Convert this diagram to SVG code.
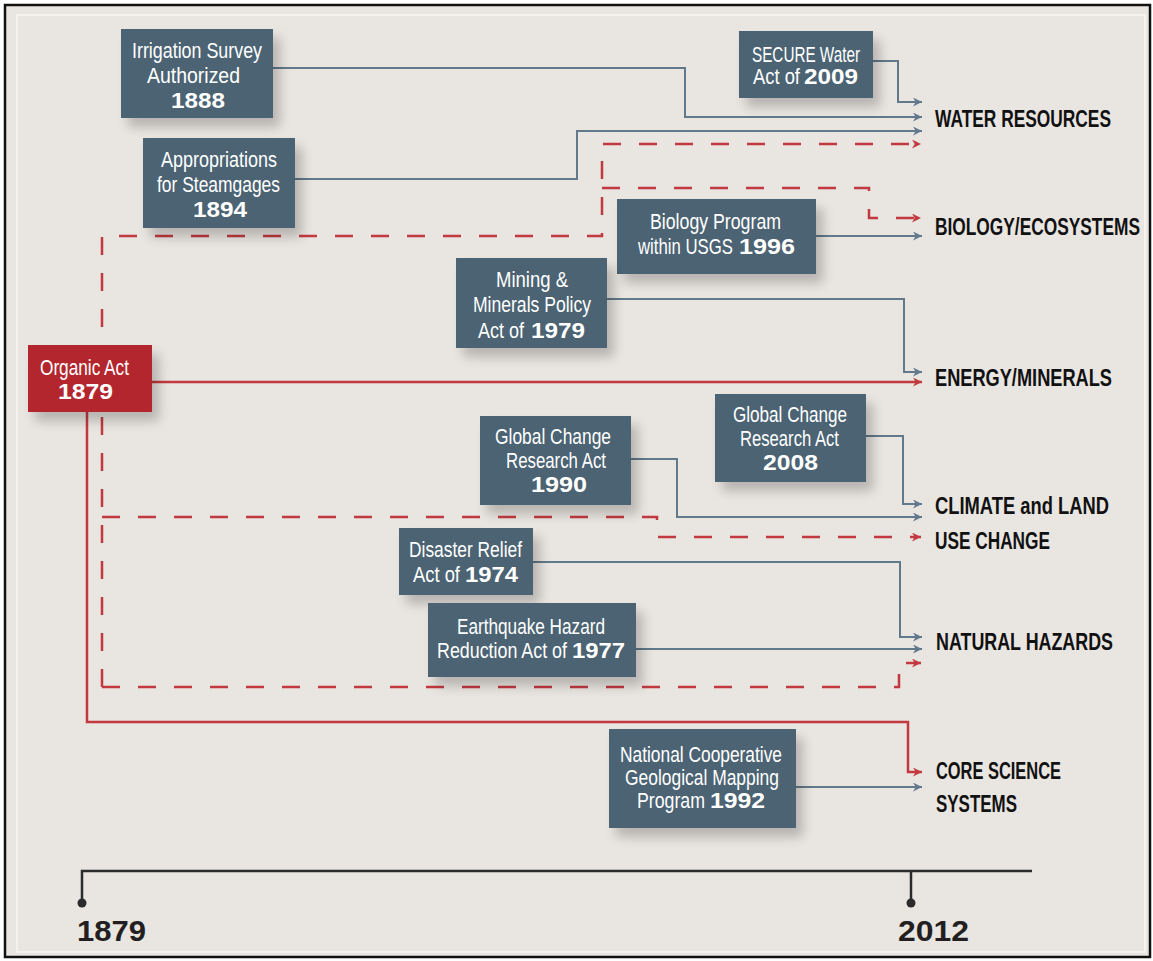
<svg xmlns="http://www.w3.org/2000/svg" width="1153" height="961" viewBox="0 0 1153 961">
<defs>
<style>
.bx{fill:#4b6373;filter:url(#sh)}
.rb{fill:#b3282d;filter:url(#sh)}
.t{font-family:"Liberation Sans",Arial,sans-serif;font-size:22px;fill:#fff}
.b{font-weight:bold}
.lb{font-family:"Liberation Sans",Arial,sans-serif;font-size:24px;font-weight:bold;fill:#111}
.yr{font-family:"Liberation Sans",Arial,sans-serif;font-size:29px;font-weight:bold;fill:#231f20}
.g{fill:none;stroke:#61798a;stroke-width:2;marker-end:url(#ag)}
.r{fill:none;stroke:#c23a3f;stroke-width:2.5;marker-end:url(#ar)}
.rd{fill:none;stroke:#c23a3f;stroke-width:2.5;stroke-dasharray:18 18;marker-end:url(#ar)}
</style>
<filter id="sh" x="-20%" y="-20%" width="150%" height="160%">
<feGaussianBlur in="SourceAlpha" stdDeviation="6"/>
<feOffset dx="7" dy="9" result="o"/>
<feComponentTransfer><feFuncA type="linear" slope="0.22"/></feComponentTransfer>
<feMerge><feMergeNode/><feMergeNode in="SourceGraphic"/></feMerge>
</filter>
<marker id="ag" markerUnits="userSpaceOnUse" viewBox="0 0 10 10" refX="10" refY="5" markerWidth="9" markerHeight="9" orient="auto">
<path d="M0,0 L10,5 L0,10 L3,5 z" fill="#61798a"/>
</marker>
<marker id="ar" markerUnits="userSpaceOnUse" viewBox="0 0 10 10" refX="10" refY="5" markerWidth="9" markerHeight="9" orient="auto">
<path d="M0,0 L10,5 L0,10 L3,5 z" fill="#c23a3f"/>
</marker>
</defs>
<rect x="0" y="0" width="1153" height="961" fill="#ffffff"/>
<rect x="5" y="5" width="1145" height="952" fill="#e9e5e1" stroke="#111" stroke-width="2.5"/>
<rect x="17" y="15" width="1128" height="937" fill="none" stroke="#f8f6f3" stroke-width="1.5"/>

<g id="connectors">
<path class="g" d="M273,68 H685 V117 H922"/>
<path class="g" d="M873,61 H898 V102 H922"/>
<path class="g" d="M295,179 H577 V131 H922"/>
<path class="g" d="M816,236 H922"/>
<path class="g" d="M607,299 H904 V372 H922"/>
<path class="g" d="M866,436 H903 V504 H922"/>
<path class="g" d="M631,459 H677 V517 H922"/>
<path class="g" d="M533,562 H900 V637 H922"/>
<path class="g" d="M636,649 H922"/>
<path class="g" d="M796,787 H922"/>
<path class="r" d="M152,382 H922"/>
<path class="r" d="M87,412 V722 H908 V772 H922"/>
<path class="rd" d="M102,687 V236 H602 V144 H921"/>
<path class="rd" d="M602,188 H869 V218 H921"/>
<path class="rd" d="M102,517 H657 V537 H921"/>
<path class="rd" d="M102,687 H899 V663 H921"/>
</g>

<g id="irrigation">
<rect class="bx" x="121" y="29" width="152" height="89"/>
<g transform="scale(0.8,1)">
<text class="t" x="165" y="58" textLength="162.5" lengthAdjust="spacingAndGlyphs">Irrigation Survey</text>
<text class="t" x="183.75" y="83" textLength="116.25" lengthAdjust="spacingAndGlyphs">Authorized</text>
<text class="t b" x="213.75" y="108" textLength="67.5" lengthAdjust="spacingAndGlyphs">1888</text>
</g>
</g>
<g id="appropriations">
<rect class="bx" x="143" y="138" width="152" height="90"/>
<g transform="scale(0.8,1)">
<text class="t" x="201.25" y="167" textLength="145" lengthAdjust="spacingAndGlyphs">Appropriations</text>
<text class="t" x="196.25" y="192" textLength="153.75" lengthAdjust="spacingAndGlyphs">for Steamgages</text>
<text class="t b" x="241.25" y="217" textLength="67.5" lengthAdjust="spacingAndGlyphs">1894</text>
</g>
</g>
<g id="secure">
<rect class="bx" x="739" y="31" width="134" height="67"/>
<g transform="scale(0.8,1)">
<text class="t" x="940" y="62" textLength="135" lengthAdjust="spacingAndGlyphs">SECURE Water</text>
<text class="t" y="84"><tspan x="941.25" textLength="58.75" lengthAdjust="spacingAndGlyphs">Act of</tspan><tspan class="b" x="1005" textLength="67.5" lengthAdjust="spacingAndGlyphs">2009</tspan></text>
</g>
</g>
<g id="biology">
<rect class="bx" x="617" y="199" width="199" height="75"/>
<g transform="scale(0.8,1)">
<text class="t" x="812.5" y="229" textLength="163.75" lengthAdjust="spacingAndGlyphs">Biology Program</text>
<text class="t" y="254"><tspan x="797.5" textLength="118.75" lengthAdjust="spacingAndGlyphs">within USGS</tspan><tspan class="b" x="923.75" textLength="70" lengthAdjust="spacingAndGlyphs">1996</tspan></text>
</g>
</g>
<g id="mining">
<rect class="bx" x="456" y="258" width="151" height="90"/>
<g transform="scale(0.8,1)">
<text class="t" x="620" y="287" textLength="90" lengthAdjust="spacingAndGlyphs">Mining &amp;</text>
<text class="t" x="591.25" y="312" textLength="147.5" lengthAdjust="spacingAndGlyphs">Minerals Policy</text>
<text class="t" y="338"><tspan x="597.5" textLength="57.5" lengthAdjust="spacingAndGlyphs">Act of</tspan><tspan class="b" x="663.75" textLength="67.5" lengthAdjust="spacingAndGlyphs">1979</tspan></text>
</g>
</g>
<g id="organic">
<rect class="rb" x="28" y="345" width="124" height="67"/>
<g transform="scale(0.8,1)">
<text class="t" x="50" y="375" textLength="111.25" lengthAdjust="spacingAndGlyphs">Organic Act</text>
<text class="t b" x="72.5" y="399" textLength="68.75" lengthAdjust="spacingAndGlyphs">1879</text>
</g>
</g>
<g id="global2008">
<rect class="bx" x="715" y="394" width="151" height="88"/>
<g transform="scale(0.8,1)">
<text class="t" x="916.25" y="422" textLength="142.5" lengthAdjust="spacingAndGlyphs">Global Change</text>
<text class="t" x="925" y="446" textLength="123.75" lengthAdjust="spacingAndGlyphs">Research Act</text>
<text class="t b" x="953.75" y="470" textLength="68.75" lengthAdjust="spacingAndGlyphs">2008</text>
</g>
</g>
<g id="global1990">
<rect class="bx" x="480" y="416" width="151" height="89"/>
<g transform="scale(0.8,1)">
<text class="t" x="618.75" y="444" textLength="145" lengthAdjust="spacingAndGlyphs">Global Change</text>
<text class="t" x="632.5" y="468" textLength="125" lengthAdjust="spacingAndGlyphs">Research Act</text>
<text class="t b" x="663.75" y="492" textLength="70" lengthAdjust="spacingAndGlyphs">1990</text>
</g>
</g>
<g id="disaster">
<rect class="bx" x="399" y="528" width="134" height="67"/>
<g transform="scale(0.8,1)">
<text class="t" x="511.25" y="557" textLength="141.25" lengthAdjust="spacingAndGlyphs">Disaster Relief</text>
<text class="t" y="582"><tspan x="516.25" textLength="58.75" lengthAdjust="spacingAndGlyphs">Act of</tspan><tspan class="b" x="581.25" textLength="66.25" lengthAdjust="spacingAndGlyphs">1974</tspan></text>
</g>
</g>
<g id="earthquake">
<rect class="bx" x="428" y="603" width="208" height="74"/>
<g transform="scale(0.8,1)">
<text class="t" x="571.25" y="634" textLength="185" lengthAdjust="spacingAndGlyphs">Earthquake Hazard</text>
<text class="t" y="658"><tspan x="546.25" textLength="162.5" lengthAdjust="spacingAndGlyphs">Reduction Act of</tspan><tspan class="b" x="715" textLength="66.25" lengthAdjust="spacingAndGlyphs">1977</tspan></text>
</g>
</g>
<g id="national">
<rect class="bx" x="609" y="729" width="187" height="99"/>
<g transform="scale(0.8,1)">
<text class="t" x="775" y="762" textLength="202.5" lengthAdjust="spacingAndGlyphs">National Cooperative</text>
<text class="t" x="781.25" y="785" textLength="192.5" lengthAdjust="spacingAndGlyphs">Geological Mapping</text>
<text class="t" y="808"><tspan x="796.25" textLength="85" lengthAdjust="spacingAndGlyphs">Program</tspan><tspan class="b" x="887.5" textLength="68.75" lengthAdjust="spacingAndGlyphs">1992</tspan></text>
</g>
</g>

<g id="labels" transform="scale(0.74,1)">
<text class="lb" x="1263.51" y="127" textLength="237.84" lengthAdjust="spacingAndGlyphs">WATER RESOURCES</text>
<text class="lb" x="1263.51" y="235" textLength="277.03" lengthAdjust="spacingAndGlyphs">BIOLOGY/ECOSYSTEMS</text>
<text class="lb" x="1263.51" y="386" textLength="239.19" lengthAdjust="spacingAndGlyphs">ENERGY/MINERALS</text>
<text class="lb" x="1263.51" y="514" textLength="235.14" lengthAdjust="spacingAndGlyphs">CLIMATE and LAND</text>
<text class="lb" x="1263.51" y="549" textLength="155.41" lengthAdjust="spacingAndGlyphs">USE CHANGE</text>
<text class="lb" x="1264.86" y="650" textLength="239.19" lengthAdjust="spacingAndGlyphs">NATURAL HAZARDS</text>
<text class="lb" x="1264.86" y="779" textLength="168.92" lengthAdjust="spacingAndGlyphs">CORE SCIENCE</text>
<text class="lb" x="1264.86" y="812" textLength="109.46" lengthAdjust="spacingAndGlyphs">SYSTEMS</text>
</g>

<g id="timeline">
<path d="M82,903 V871 H1032 M911,871 V903" fill="none" stroke="#2b2b2b" stroke-width="2.5"/>
<circle cx="82" cy="903" r="4.5" fill="#2b2b2b"/>
<circle cx="911" cy="903" r="4.5" fill="#2b2b2b"/>
<text class="yr" x="77" y="941" textLength="69" lengthAdjust="spacingAndGlyphs">1879</text>
<text class="yr" x="898" y="941" textLength="71" lengthAdjust="spacingAndGlyphs">2012</text>
</g>
</svg>
